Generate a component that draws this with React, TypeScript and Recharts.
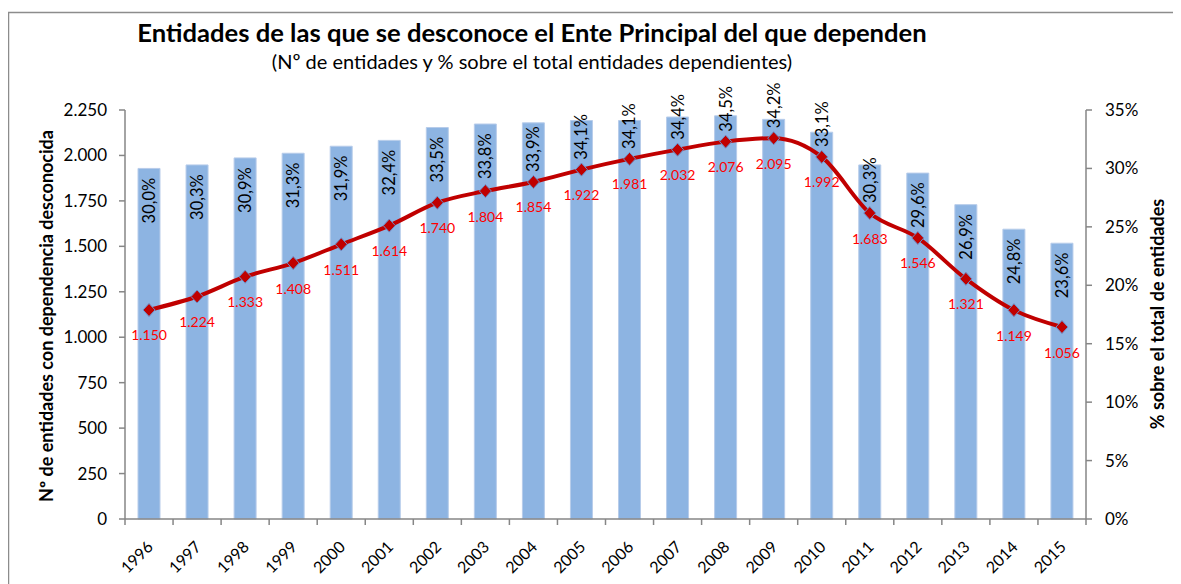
import React from 'react';
import { ComposedChart, Bar, Line, XAxis, YAxis, LabelList } from 'recharts';

const years = ['1996', '1997', '1998', '1999', '2000', '2001', '2002', '2003', '2004', '2005', '2006', '2007', '2008', '2009', '2010', '2011', '2012', '2013', '2014', '2015'];
const counts = [1150, 1224, 1333, 1408, 1511, 1614, 1740, 1804, 1854, 1922, 1981, 2032, 2076, 2095, 1992, 1683, 1546, 1321, 1149, 1056];
const percents = [30.0, 30.3, 30.9, 31.3, 31.9, 32.4, 33.5, 33.8, 33.9, 34.1, 34.1, 34.4, 34.5, 34.2, 33.1, 30.3, 29.6, 26.9, 24.8, 23.6];
const countTicks = [0, 250, 500, 750, 1000, 1250, 1500, 1750, 2000, 2250];
const percentTicks = [0, 5, 10, 15, 20, 25, 30, 35];

const TITLE = 'Entidades de las que se desconoce el Ente Principal del que dependen';
const SUBTITLE = '(Nº de entidades y % sobre el total entidades dependientes)';
const LEFT_TITLE = 'Nº de entidades con dependencia desconocida';
const RIGHT_TITLE = '% sobre el total de entidades';

const data = years.map((y, i) => ({ year: y, count: counts[i], pct: percents[i] }));

const FONT = 'Lato, "Open Sans", sans-serif';
const W = 1173;
const H = 576;
const COUNT_MAX = countTicks[countTicks.length - 1];
const PCT_MAX = percentTicks[percentTicks.length - 1];
const AXIS_COLOR = '#868686';

const fmtThousands = (v: number) => String(v).replace(/\B(?=(\d{3})+(?!\d))/g, '.');
const fmtPct = (v: number) => v.toFixed(1).replace('.', ',') + '%';

const BarLabel = (props: any) => {
  const x = Number(props.x);
  const y = Number(props.y);
  const width = Number(props.width);
  const height = Number(props.height);
  const value = Number(props.value);
  const index = props.index;
  if (!isFinite(x) || !isFinite(y) || !value) return null;
  const cx = x + width / 2;
  const bottom = y + height;
  const plotH = (height * PCT_MAX) / value;
  const markerY = bottom - (counts[index] / COUNT_MAX) * plotH;
  const textLen = 44;
  const end = Math.min(y + 11 + textLen, markerY - 10);
  return (
    <text
      x={cx}
      y={end}
      transform={`rotate(-90 ${cx} ${end})`}
      textAnchor="start"
      dominantBaseline="central"
      fontSize={16.5}
      fill="#000"
      fontFamily={FONT}
    >
      {fmtPct(value)}
    </text>
  );
};

const LineLabel = (props: any) => {
  const x = Number(props.x);
  const y = Number(props.y);
  if (!isFinite(x) || !isFinite(y)) return null;
  return (
    <text x={x} y={y + 25} textAnchor="middle" dominantBaseline="central" fontSize={14} fill="#FF0000" fontFamily={FONT}>
      {fmtThousands(Number(props.value))}
    </text>
  );
};

const Diamond = (props: any) => {
  const { cx, cy, index } = props;
  if (cx == null || cy == null) return <g key={`d-${index}`} />;
  return (
    <path
      key={`d-${index}`}
      d={`M${cx},${cy - 6.5} L${cx + 6},${cy} L${cx},${cy + 6.5} L${cx - 6},${cy} Z`}
      fill="#C00000"
      stroke="#6D8FC9"
      strokeWidth={1}
    />
  );
};

const XTick = (props: any) => {
  const { x, y, payload, index, visibleTicksCount, width } = props;
  const n = visibleTicksCount || years.length;
  const band = width ? width / n : (payload && payload.offset ? payload.offset * 2 : 48);
  const axisY = y - 6;
  const lines = [x - band / 2];
  if (index === n - 1) lines.push(x + band / 2);
  const tx = x + 5;
  const ty = axisY + 29;
  return (
    <g>
      {lines.map((lx, i) => (
        <line key={i} x1={lx} x2={lx} y1={axisY} y2={axisY + 6} stroke={AXIS_COLOR} strokeWidth={1.5} />
      ))}
      <text
        x={tx}
        y={ty}
        transform={`rotate(-45 ${tx} ${ty})`}
        textAnchor="end"
        fontSize={16}
        fill="#000"
        fontFamily={FONT}
      >
        {payload.value}
      </text>
    </g>
  );
};

export default function App() {
  return (
    <div style={{ position: 'relative', width: W, height: H, overflow: 'hidden', background: '#fff' }}>
      <ComposedChart
        width={W}
        height={H}
        data={data}
        margin={{ top: 102, right: 35, bottom: 15, left: 57 }}
        barCategoryGap="54%"
      >
        <XAxis
          dataKey="year"
          height={50}
          tickLine={false}
          tickSize={6}
          tickMargin={0}
          interval={0}
          axisLine={{ stroke: AXIS_COLOR, strokeWidth: 1.5 }}
          tick={<XTick />}
        />
        <YAxis
          yAxisId="left"
          orientation="left"
          width={60}
          domain={[0, COUNT_MAX]}
          ticks={countTicks}
          interval={0}
          tickFormatter={fmtThousands}
          tickSize={6}
          tickMargin={12}
          axisLine={{ stroke: AXIS_COLOR, strokeWidth: 1.5 }}
          tickLine={{ stroke: AXIS_COLOR, strokeWidth: 1.5 }}
          tick={{ fontSize: 17, fill: '#000', fontFamily: FONT }}
        />
        <YAxis
          yAxisId="right"
          orientation="right"
          width={60}
          domain={[0, PCT_MAX]}
          ticks={percentTicks}
          interval={0}
          tickFormatter={(v: number) => `${v}%`}
          tickSize={6}
          tickMargin={13}
          axisLine={{ stroke: AXIS_COLOR, strokeWidth: 1.5 }}
          tickLine={{ stroke: AXIS_COLOR, strokeWidth: 1.5 }}
          tick={{ fontSize: 17, fill: '#000', fontFamily: FONT }}
        />
        <Bar
          yAxisId="right"
          dataKey="pct"
          fill="#8DB4E2"
          stroke="#B7CCEA"
          strokeWidth={1}
          barSize={22}
          isAnimationActive={false}
        >
          <LabelList dataKey="pct" content={<BarLabel />} />
        </Bar>
        <Line
          yAxisId="left"
          dataKey="count"
          type="monotone"
          stroke="#C00000"
          strokeWidth={4}
          dot={<Diamond />}
          activeDot={false}
          isAnimationActive={false}
        >
          <LabelList dataKey="count" content={<LineLabel />} />
        </Line>
      </ComposedChart>
      <svg
        width={W}
        height={H}
        style={{ position: 'absolute', left: 0, top: 0, pointerEvents: 'none' }}
      >
        <path d={`M0.5,${H} V4.5 H${W}`} fill="none" stroke="#8C8C8C" strokeWidth={1.5} />
        <text x={524} y={34} textAnchor="middle" fontSize={25.6} fontWeight="bold" fill="#000" fontFamily={FONT}>
          {TITLE}
        </text>
        <text x={524} y={61} textAnchor="middle" fontSize={20} fill="#000" fontFamily={FONT}>
          {SUBTITLE}
        </text>
        <text
          x={38}
          y={308}
          transform="rotate(-90 38 308)"
          textAnchor="middle"
          dominantBaseline="central"
          fontSize={18}
          fontWeight="bold"
          fill="#000"
          fontFamily={FONT}
        >
          {LEFT_TITLE}
        </text>
        <text
          x={1149}
          y={306}
          transform="rotate(-90 1149 306)"
          textAnchor="middle"
          dominantBaseline="central"
          fontSize={18}
          fontWeight="bold"
          fill="#000"
          fontFamily={FONT}
        >
          {RIGHT_TITLE}
        </text>
      </svg>
    </div>
  );
}
